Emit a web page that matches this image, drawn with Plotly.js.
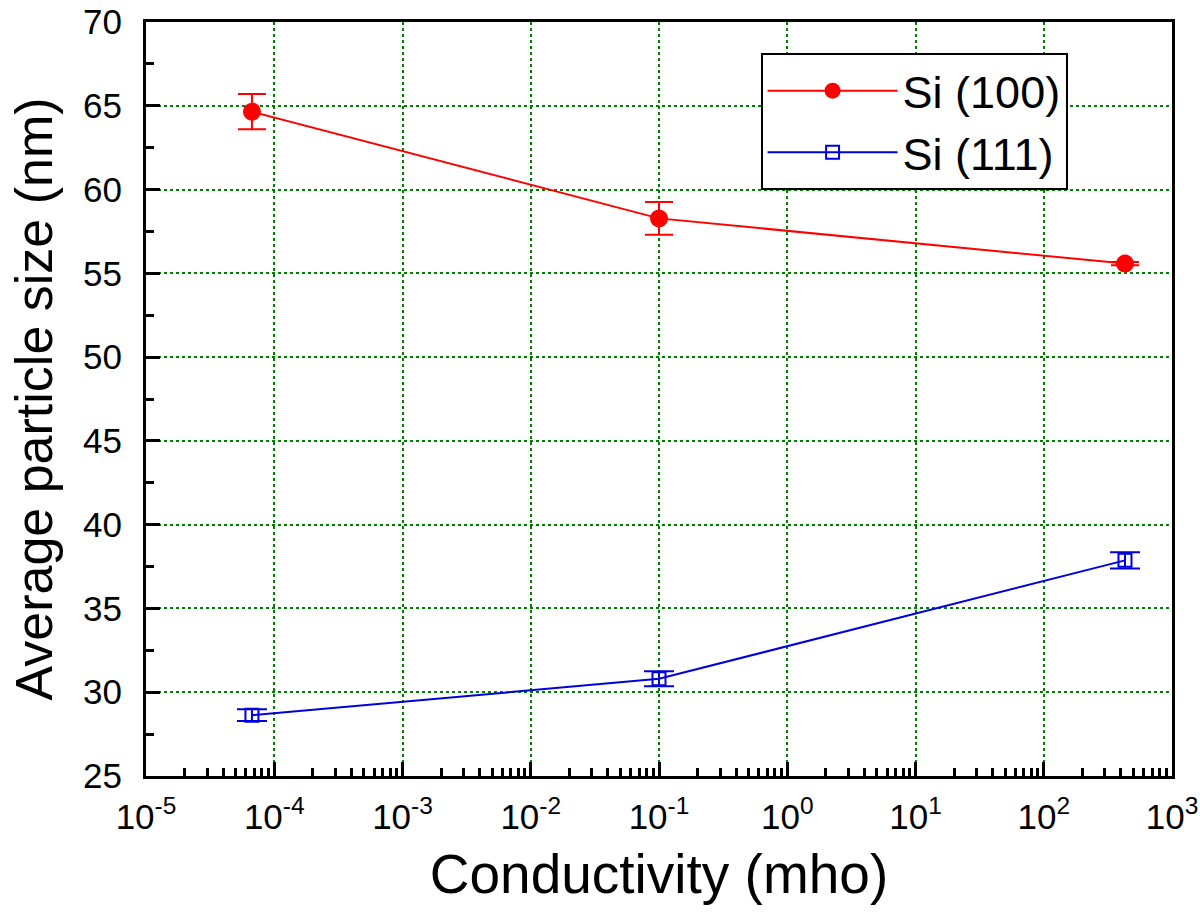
<!DOCTYPE html>
<html>
<head>
<meta charset="utf-8">
<script src="https://cdn.plot.ly/plotly-3.0.1.min.js"></script>
<style>html,body{margin:0;padding:0;background:#fff;}#chart{width:1200px;height:913px;}</style>
</head>
<body>
<div id="chart"></div>
<script>
const conductivity = [6.7e-5, 0.1, 430];
const si100Size = [64.65, 58.28, 55.58];
const si100Err = [1.05, 0.97, 0.1];
const si111Size = [28.63, 30.8, 37.87];
const si111Err = [0.35, 0.45, 0.48];
const seriesNames = ['Si (100)', 'Si (111)'];
const xTickExponents = [-5, -4, -3, -2, -1, 0, 1, 2, 3];
const xTickVals = xTickExponents.map(e => Math.pow(10, e));
const xTickText = xTickExponents.map(e => '10<sup>' + e + '</sup>');

const traces = [
  {
    x: conductivity, y: si100Size, name: seriesNames[0],
    type: 'scatter', mode: 'lines+markers',
    line: {color: '#ff0000', width: 2},
    marker: {symbol: 'circle', size: 18, color: '#ff0000'},
    error_y: {type: 'data', array: si100Err, visible: true, color: '#ff0000', thickness: 2, width: 14}
  },
  {
    x: conductivity, y: si111Size, name: seriesNames[1],
    type: 'scatter', mode: 'lines+markers',
    line: {color: '#0000dd', width: 2},
    marker: {symbol: 'square-open', size: 13, color: '#0000dd', line: {width: 2, color: '#0000dd'}},
    error_y: {type: 'data', array: si111Err, visible: true, color: '#0000dd', thickness: 2, width: 15}
  }
];

const font = 'Liberation Sans, Arial, Helvetica, sans-serif';
const layout = {
  width: 1200, height: 913,
  margin: {l: 146, r: 28, t: 22, b: 137},
  paper_bgcolor: '#fff', plot_bgcolor: '#fff',
  font: {family: font, color: '#000'},
  showlegend: true,
  legend: {
    x: 0.599, y: 0.959, xanchor: 'left', yanchor: 'top',
    bgcolor: '#fff', bordercolor: '#000', borderwidth: 2,
    font: {size: 45, family: font, color: '#000'},
    itemwidth: 130, tracegroupgap: 0
  },
  xaxis: {
    type: 'log', range: [-5, 3],
    tickmode: 'array', tickvals: xTickVals, ticktext: xTickText,
    showline: true, linewidth: 3, linecolor: '#000', mirror: true,
    ticks: 'inside', ticklen: 14, tickwidth: 3, tickcolor: '#000',
    ticklabelstandoff: 8,
    tickfont: {size: 35, family: font, color: '#000'},
    showgrid: true, gridcolor: '#008000', gridwidth: 2, griddash: 'dot',
    zeroline: false,
    minor: {ticks: 'inside', ticklen: 8, tickwidth: 3, tickcolor: '#000', dtick: 'D1', showgrid: false},
    title: {text: 'Conductivity (mho)', font: {size: 55, family: font, color: '#000'}, standoff: 20}
  },
  yaxis: {
    range: [25, 70], dtick: 5,
    showline: true, linewidth: 3, linecolor: '#000', mirror: true,
    ticks: 'inside', ticklen: 14, tickwidth: 3, tickcolor: '#000',
    ticklabelstandoff: 14,
    tickfont: {size: 35, family: font, color: '#000'},
    showgrid: true, gridcolor: '#008000', gridwidth: 2, griddash: 'dot',
    zeroline: false,
    minor: {ticks: 'inside', ticklen: 8, tickwidth: 3, tickcolor: '#000', dtick: 2.5, showgrid: false},
    title: {text: 'Average particle size (nm)', font: {size: 52, family: font, color: '#000'}, standoff: 14}
  }
};

Plotly.newPlot('chart', traces, layout, {displayModeBar: false, staticPlot: true});
</script>
</body>
</html>
